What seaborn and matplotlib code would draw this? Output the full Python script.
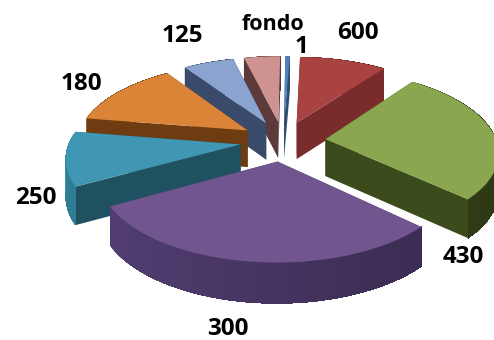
import numpy as np
import matplotlib
matplotlib.use("Agg")
import matplotlib.pyplot as plt
import seaborn as sns

# Sieve fractions, clockwise from the top of the pie, as percentages
labels = ["600", "430", "300", "250", "180", "125", "fondo", "1"]
shares = [9.6, 26.8, 30.0, 10.6, 13.0, 5.6, 4.0, 0.5]

top_colors = ["#A84342", "#8AA64E", "#71558F", "#3F97B3", "#DB8438", "#8BA3CF", "#CE9391", "#4F81BD"]
wall_colors = ["#7A2C2C", "#3C4B1C", "#4A3868", "#1F5161", "#6E3C10", "#3A4A6B", "#5C3A3A", "#2F4D70"]
rim_colors = ["#7A2C2C", "#3C4B1C", "#4A3868", "#2A7287", "#6E3C10", "#3A4A6B", "#5C3A3A", "#2F4D70"]

sns.set_theme(style="white")
plt.rcParams["font.family"] = ["Open Sans", "DejaVu Sans"]

fig, ax = plt.subplots(figsize=(4.94, 3.4), dpi=100)
ax.set_position([0, 0, 1, 1])
ax.set_xlim(0, 494)
ax.set_ylim(340, 0)
ax.axis("off")

# Perspective projection of the pie plane onto the page
CX, CY = 283, 141
SX, SY = 171, 80
PERSP = 0.143
EXPLODE = 0.25
DEPTH = 37
START = 88


def project(x, y):
    s = 1 / (1 + PERSP * y)
    return CX + SX * x * s, CY - SY * y * s, s


def drop(px, py, ps):
    return px, py + DEPTH * np.sqrt(ps)


def draw_rim(i, theta, rim, rim_low):
    # Outer wall, shaded darker towards the right; each band overlaps the
    # remaining arc so that no seams show between bands
    base = np.array(matplotlib.colors.to_rgb(rim_colors[i]))
    if np.cos(theta[0]) < np.cos(theta[-1]):
        steps = range(len(theta) - 1)
        walk = lambda k: (rim[0][k:], rim[1][k:], rim_low[0][k:], rim_low[1][k:])
    else:
        steps = range(len(theta) - 1, 0, -1)
        walk = lambda k: (rim[0][:k + 1], rim[1][:k + 1], rim_low[0][:k + 1], rim_low[1][:k + 1])
    for k in steps:
        xs_hi, ys_hi, xs_lo, ys_lo = walk(k)
        shade = 1.12 - 0.38 * (np.cos(theta[k]) + 1) / 2
        ax.fill(np.r_[xs_hi, xs_lo[::-1]], np.r_[ys_hi, ys_lo[::-1]],
                color=np.clip(base * shade, 0, 1), lw=0)


def draw_radial(i, apex, apex_low, rim, rim_low):
    for j in (0, -1):
        ax.fill([apex[0], rim[0][j], rim_low[0][j], apex_low[0]],
                [apex[1], rim[1][j], rim_low[1][j], apex_low[1]],
                color=wall_colors[i], lw=0)


edges = START - np.cumsum([0] + shares) * 3.6
wedges = []
for i, share in enumerate(shares):
    a0, a1 = np.radians(edges[i]), np.radians(edges[i + 1])
    mid = (a0 + a1) / 2
    ox, oy = EXPLODE * np.cos(mid), EXPLODE * np.sin(mid)
    theta = np.linspace(a0, a1, max(int(abs(a1 - a0) * 120), 3))
    wedges.append((i, ox, oy, theta))

# Painter's order: slices further back go first
for i, ox, oy, theta in sorted(wedges, key=lambda w: -w[2]):
    apex = project(ox, oy)
    rim = project(ox + np.cos(theta), oy + np.sin(theta))
    apex_low = drop(*apex)
    rim_low = drop(*rim)

    # The nearer of the two wall groups is painted last
    if oy < 0:
        draw_radial(i, apex, apex_low, rim, rim_low)
        draw_rim(i, theta, rim, rim_low)
    else:
        draw_rim(i, theta, rim, rim_low)
        draw_radial(i, apex, apex_low, rim, rim_low)

    # Top face
    ax.fill(np.r_[apex[0], rim[0]], np.r_[apex[1], rim[1]],
            color=top_colors[i], lw=0)

label_positions = [(358, 33), (463, 257), (228, 329), (36, 198),
                   (81, 84), (182, 36), (273, 24), (302, 47)]
label_sizes = [17.5, 17.5, 17.5, 17.5, 17.5, 17.5, 15.5, 17.5]
for text, (lx, ly), size in zip(labels, label_positions, label_sizes):
    ax.text(lx, ly, text, ha="center", va="center", fontsize=size,
            fontweight="bold", color="black")

fig.savefig("out.png", dpi=100)
